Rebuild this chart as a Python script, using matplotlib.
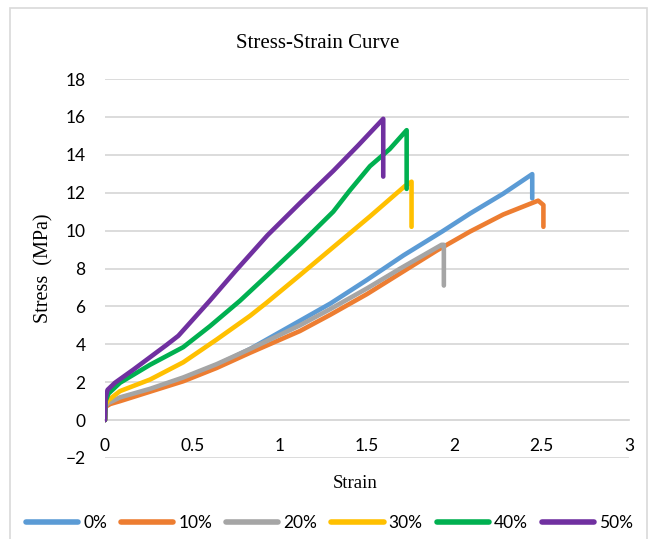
import matplotlib
matplotlib.use("Agg")
from matplotlib import pyplot as plt
from matplotlib.patches import Rectangle

# values (strain, stress in MPa)
labels = ["0%", "10%", "20%", "30%", "40%", "50%"]
colors = ["#5B9BD5", "#ED7D31", "#A5A5A5", "#FFC000", "#00B050", "#7030A0"]

blue_x = [0, 0.003, 0.03, 0.1, 0.26, 0.45, 0.64, 0.83, 1.06, 1.29, 1.5, 1.71, 1.93, 2.09, 2.28, 2.446, 2.446]
blue_y = [0, 0.75, 0.95, 1.2, 1.6, 2.2, 2.9, 3.75, 4.95, 6.15, 7.4, 8.7, 9.95, 10.9, 11.95, 12.98, 11.7]

orange_x = [0, 0.003, 0.03, 0.086, 0.258, 0.448, 0.639, 0.83, 1.116, 1.288, 1.5, 1.7, 1.9, 2.09, 2.28, 2.43, 2.48, 2.51, 2.51]
orange_y = [0, 0.7, 0.85, 1.0, 1.5, 2.05, 2.75, 3.55, 4.7, 5.55, 6.65, 7.8, 8.95, 9.95, 10.85, 11.4, 11.58, 11.35, 10.2]

gray_x = [0, 0.003, 0.02, 0.086, 0.258, 0.448, 0.639, 0.83, 1.116, 1.288, 1.5, 1.7, 1.927, 1.94, 1.94]
gray_y = [0, 0.75, 0.9, 1.2, 1.65, 2.25, 2.95, 3.75, 5.0, 5.85, 6.95, 8.05, 9.25, 9.25, 7.1]

yellow_x = [0, 0.003, 0.019, 0.086, 0.258, 0.448, 0.639, 0.83, 0.926, 1.116, 1.31, 1.517, 1.717, 1.755, 1.755]
yellow_y = [0, 0.8, 1.05, 1.53, 2.14, 3.05, 4.25, 5.5, 6.2, 7.65, 9.15, 10.75, 12.35, 12.58, 10.2]

green_x = [0, 0.003, 0.02, 0.086, 0.258, 0.448, 0.6, 0.773, 0.93, 1.12, 1.307, 1.4, 1.517, 1.63, 1.727, 1.727]
green_y = [0, 1.0, 1.4, 1.97, 2.92, 3.85, 4.95, 6.3, 7.65, 9.3, 11.0, 12.1, 13.4, 14.3, 15.3, 12.2]

purple_x = [0, 0.003, 0.015, 0.057, 0.162, 0.353, 0.42, 0.6, 0.75, 0.93, 1.116, 1.307, 1.45, 1.593, 1.593]
purple_y = [0, 1.18, 1.6, 1.97, 2.66, 3.97, 4.45, 6.3, 7.9, 9.75, 11.45, 13.15, 14.5, 15.9, 12.85]

xs = [blue_x, orange_x, gray_x, yellow_x, green_x, purple_x]
ys = [blue_y, orange_y, gray_y, yellow_y, green_y, purple_y]

x_ticks = [0, 0.5, 1, 1.5, 2, 2.5, 3]
x_ticklabels = ["0", "0.5", "1", "1.5", "2", "2.5", "3"]
y_ticks = list(range(-2, 19, 2))

tick_font = "Lato"
serif = "Liberation Serif"
grid_col = "#D9D9D9"

fig = plt.figure(figsize=(6.49, 5.39), dpi=100)
ax = fig.add_axes([105/649, 1-458/539, 524/649, 379/539])

for x, y, c, lab in zip(xs, ys, colors, labels):
	ax.plot(x, y, color=c, lw=3.3, label=lab, solid_capstyle="round", solid_joinstyle="round")

ax.set_xlim(0, 3)
ax.set_ylim(-2, 18)
ax.set_xticks(x_ticks)
ax.set_xticklabels(x_ticklabels)
ax.set_yticks(y_ticks)
ax.yaxis.grid(True, color=grid_col, lw=1.3)
ax.set_axisbelow(True)
for s in ["top", "right", "left"]:
	ax.spines[s].set_visible(False)
ax.spines["bottom"].set_position(("data", 0))
ax.spines["bottom"].set_color(grid_col)
ax.spines["bottom"].set_linewidth(1.3)
ax.spines["bottom"].set_zorder(0.5)
ax.tick_params(axis="x", length=0, pad=13, labelsize=12.5)
ax.tick_params(axis="y", length=0, pad=14, labelsize=12.5)
for t in ax.get_xticklabels() + ax.get_yticklabels():
	t.set_fontfamily(tick_font)

ax.text(0.477, -0.066, "Strain", transform=ax.transAxes, ha="center", va="center",
		fontsize=13.5, family=serif)
ax.text(-0.116, 0.5, "Stress  (MPa)", transform=ax.transAxes, ha="center", va="center",
		rotation=90, fontsize=14.5, family=serif)
fig.text(318/649, 1-43/539, "Stress-Strain Curve", ha="center", va="center",
		 fontsize=15, family=serif)

leg = fig.legend(loc="center", bbox_to_anchor=(0.508, 1-523/539), ncol=6, frameon=False,
				 handlelength=3.0, handletextpad=0.3, columnspacing=0.8,
				 prop={"family": tick_font, "size": 12.5})
for h in leg.get_lines():
	h.set_linewidth(4)
	h.set_solid_capstyle("round")

fig.patches.append(Rectangle((10/649, -0.02), 637/649, 1-8/539+0.02, transform=fig.transFigure,
							 fill=False, edgecolor=grid_col, lw=1.2))

fig.savefig("out.png", dpi=100)
